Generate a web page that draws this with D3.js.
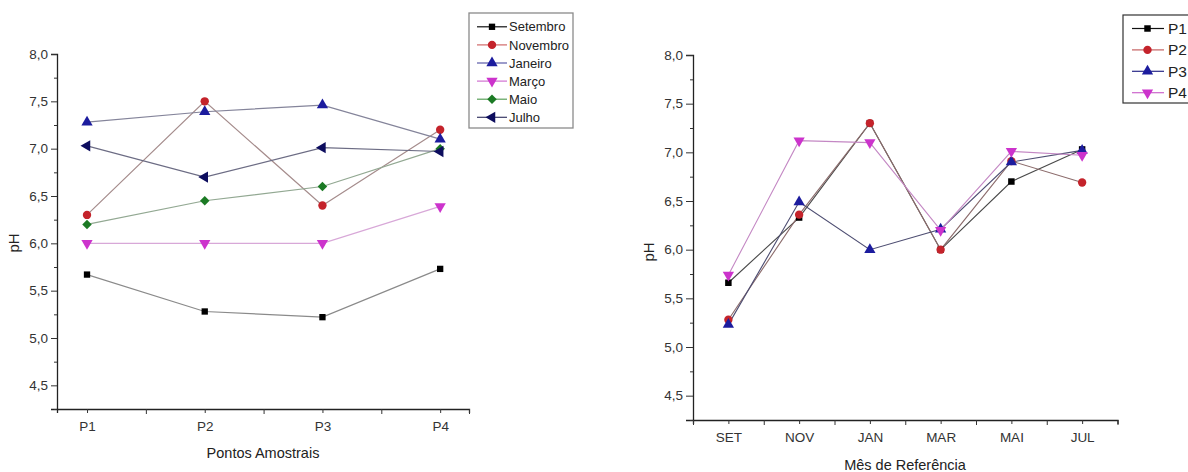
<!DOCTYPE html>
<html>
<head>
<meta charset="utf-8">
<script src="https://cdn.jsdelivr.net/npm/d3@7"></script>
<style>
  body { margin: 0; background: #fff; }
  svg { display: block; font-family: 'Liberation Sans', Arial, sans-serif; }
</style>
</head>
<body>
<div id="chart"></div>
<script>
// Left chart: pH by sampling point, one series per month
const pontos = ["P1", "P2", "P3", "P4"];
const mesesNomes = ["Setembro", "Novembro", "Janeiro", "Março", "Maio", "Julho"];
const setembro = [5.67, 5.28, 5.22, 5.73];
const novembro = [6.30, 7.50, 6.40, 7.20];
const janeiro  = [7.28, 7.39, 7.46, 7.10];
const marco    = [6.00, 6.00, 6.00, 6.39];
const maio     = [6.20, 6.45, 6.60, 7.00];
const julho    = [7.03, 6.70, 7.01, 6.97];

// Right chart: pH by month, one series per sampling point
const mesesAbrev = ["SET", "NOV", "JAN", "MAR", "MAI", "JUL"];
const p1 = [5.66, 6.33, 7.30, 6.00, 6.70, 7.03];
const p2 = [5.28, 6.36, 7.30, 6.00, 6.91, 6.69];
const p3 = [5.23, 6.49, 6.00, 6.21, 6.90, 7.02];
const p4 = [5.74, 7.12, 7.10, 6.20, 7.01, 6.97];

const yTicks = [4.5, 5.0, 5.5, 6.0, 6.5, 7.0, 7.5, 8.0];
const yMinor = [4.25, 4.75, 5.25, 5.75, 6.25, 6.75, 7.25, 7.75];

const W = 1188, H = 472;
const svg = d3.select("#chart").append("svg").attr("width", W).attr("height", H);

const br = d3.formatLocale({ decimal: ",", thousands: ".", grouping: [3], currency: ["R$", ""] });
const fmt = br.format(".1f");

// marker shapes
const shapes = {
    square:   { type: d3.symbolSquare, rot: 0 },
    circle:   { type: d3.symbolCircle, rot: 0 },
    up:       { type: d3.symbolTriangle, rot: 0 },
    down:     { type: d3.symbolTriangle, rot: 180 },
    diamond:  { type: d3.symbolSquare, rot: 45 },
    left:     { type: d3.symbolTriangle, rot: -90 }
};

function marker(g, shape, color, x, y, size) {
    const s = shapes[shape];
    g.append("path")
        .attr("d", d3.symbol().type(s.type).size(size)())
        .attr("transform", `translate(${x},${y}) rotate(${s.rot})`)
        .attr("fill", color);
}

function drawAxes(x, y, xVals, xLabels, xMinorVals, tickSize) {
    const yAxis = svg.append("g")
        .attr("transform", `translate(${x.range()[0]},0)`)
        .call(d3.axisLeft(y).tickValues(yTicks).tickFormat(fmt).tickSize(tickSize).tickPadding(3));
    svg.append("g")
        .attr("transform", `translate(${x.range()[0]},0)`)
        .call(d3.axisLeft(y).tickValues(yMinor).tickFormat("").tickSize(3))
        .call(g => g.select(".domain").remove());
    const xAxis = svg.append("g")
        .attr("transform", `translate(0,${y.range()[0]})`)
        .call(d3.axisBottom(x).tickValues(xVals).tickFormat((d, i) => xLabels[i]).tickSize(4).tickPadding(8));
    svg.append("g")
        .attr("transform", `translate(0,${y.range()[0]})`)
        .call(d3.axisBottom(x).tickValues(xMinorVals).tickFormat("").tickSize(5))
        .call(g => g.select(".domain").remove());
    [yAxis, xAxis].forEach(a => {
        a.select(".domain").attr("stroke", "#222").attr("stroke-width", 1.3);
        a.selectAll(".tick text").attr("fill", "#333").style("font-size", "13.5px");
    });
    svg.selectAll(".tick line").attr("stroke", "#333");
}

// ---------- left chart ----------
const xL = d3.scaleLinear().domain([0.745, 4.245]).range([57, 469]);
const yL = d3.scaleLinear().domain([4.25, 8.0]).range([409, 54]);

drawAxes(xL, yL, [1, 2, 3, 4], pontos, [1.5, 2.5, 3.5, 4.245], 6);

svg.append("text")
    .attr("x", 263).attr("y", 458)
    .attr("text-anchor", "middle")
    .attr("fill", "#222")
    .style("font-size", "14.5px")
    .text("Pontos Amostrais");

svg.append("text")
    .attr("transform", "translate(19,243) rotate(-90)")
    .attr("text-anchor", "middle")
    .attr("fill", "#222")
    .style("font-size", "15px")
    .text("pH");

const leftSeries = [
    { name: mesesNomes[0], vals: setembro, shape: "square",  color: "#000000", line: "#8a8a8a", leg: "#111",    size: 40 },
    { name: mesesNomes[1], vals: novembro, shape: "circle",  color: "#c4232b", line: "#a58c8c", leg: "#d06868", size: 55 },
    { name: mesesNomes[2], vals: janeiro,  shape: "up",      color: "#1c1c9e", line: "#84849a", leg: "#5a5aa8", size: 55 },
    { name: mesesNomes[3], vals: marco,    shape: "down",    color: "#cc33cc", line: "#d8a8d8", leg: "#d070d0", size: 55 },
    { name: mesesNomes[4], vals: maio,     shape: "diamond", color: "#1b7a24", line: "#92a892", leg: "#5aa05a", size: 45 },
    { name: mesesNomes[5], vals: julho,    shape: "left",    color: "#0d0d5e", line: "#6c6c84", leg: "#3a3a66", size: 55 }
];

const lineL = d3.line().x((d, i) => xL(i + 1)).y(d => yL(d));
const gL = svg.append("g");
leftSeries.forEach(s => {
    gL.append("path").datum(s.vals)
        .attr("fill", "none").attr("stroke", s.line).attr("stroke-width", 1.2)
        .attr("d", lineL);
});
leftSeries.forEach(s => {
    s.vals.forEach((v, i) => marker(gL, s.shape, s.color, xL(i + 1), yL(v), s.size));
});

// left legend
const legL = svg.append("g");
legL.append("rect").attr("x", 469).attr("y", 13).attr("width", 104).attr("height", 115)
    .attr("fill", "#fff").attr("stroke", "#8a8a8a").attr("stroke-width", 1.3);
leftSeries.forEach((s, i) => {
    const ly = 26.8 + i * 18.1;
    legL.append("line").attr("x1", 477).attr("x2", 507).attr("y1", ly).attr("y2", ly)
        .attr("stroke", s.leg).attr("stroke-width", 1.2);
    marker(legL, s.shape, s.color, 492, ly, s.size);
    legL.append("text").attr("x", 509).attr("y", ly).attr("dy", "0.36em")
        .attr("fill", "#222").style("font-size", "13px").text(s.name);
});

// ---------- right chart ----------
const xR = d3.scaleLinear().domain([0.5, 6.5]).range([693, 1117.5]);
const yR = d3.scaleLinear().domain([4.25, 8.0]).range([420, 55]);

drawAxes(xR, yR, [1, 2, 3, 4, 5, 6], mesesAbrev, [0.5, 1.5, 2.5, 3.5, 4.5, 5.5, 6.5], 7);

svg.append("text")
    .attr("x", 905).attr("y", 470)
    .attr("text-anchor", "middle")
    .attr("fill", "#222")
    .style("font-size", "14.5px")
    .text("Mês de Referência");

svg.append("text")
    .attr("transform", "translate(654,252) rotate(-90)")
    .attr("text-anchor", "middle")
    .attr("fill", "#222")
    .style("font-size", "15px")
    .text("pH");

const rightSeries = [
    { name: "P1", vals: p1, shape: "square", color: "#000000", line: "#4a4a4a", leg: "#111",    size: 42 },
    { name: "P2", vals: p2, shape: "circle", color: "#c4232b", line: "#8c6c6c", leg: "#c46060", size: 55 },
    { name: "P3", vals: p3, shape: "up",     color: "#1c1c9e", line: "#4e4e72", leg: "#2a2a88", size: 55 },
    { name: "P4", vals: p4, shape: "down",   color: "#cc33cc", line: "#c488c4", leg: "#cc66cc", size: 55 }
];

const lineR = d3.line().x((d, i) => xR(i + 1)).y(d => yR(d));
const gR = svg.append("g");
rightSeries.forEach(s => {
    gR.append("path").datum(s.vals)
        .attr("fill", "none").attr("stroke", s.line).attr("stroke-width", 1.1)
        .attr("d", lineR);
});
rightSeries.forEach(s => {
    s.vals.forEach((v, i) => marker(gR, s.shape, s.color, xR(i + 1), yR(v), s.size));
});

// right legend (runs off the right edge)
const legR = svg.append("g");
legR.append("rect").attr("x", 1123).attr("y", 15).attr("width", 80).attr("height", 88)
    .attr("fill", "#fff").attr("stroke", "#333").attr("stroke-width", 1.2);
rightSeries.forEach((s, i) => {
    const ly = 28.5 + i * 21.4;
    legR.append("line").attr("x1", 1132).attr("x2", 1164).attr("y1", ly).attr("y2", ly)
        .attr("stroke", s.leg).attr("stroke-width", 1.2);
    marker(legR, s.shape, s.color, 1147.5, ly, s.size);
    legR.append("text").attr("x", 1168).attr("y", ly).attr("dy", "0.36em")
        .attr("fill", "#222").style("font-size", "15.5px").text(s.name);
});
</script>
</body>
</html>
